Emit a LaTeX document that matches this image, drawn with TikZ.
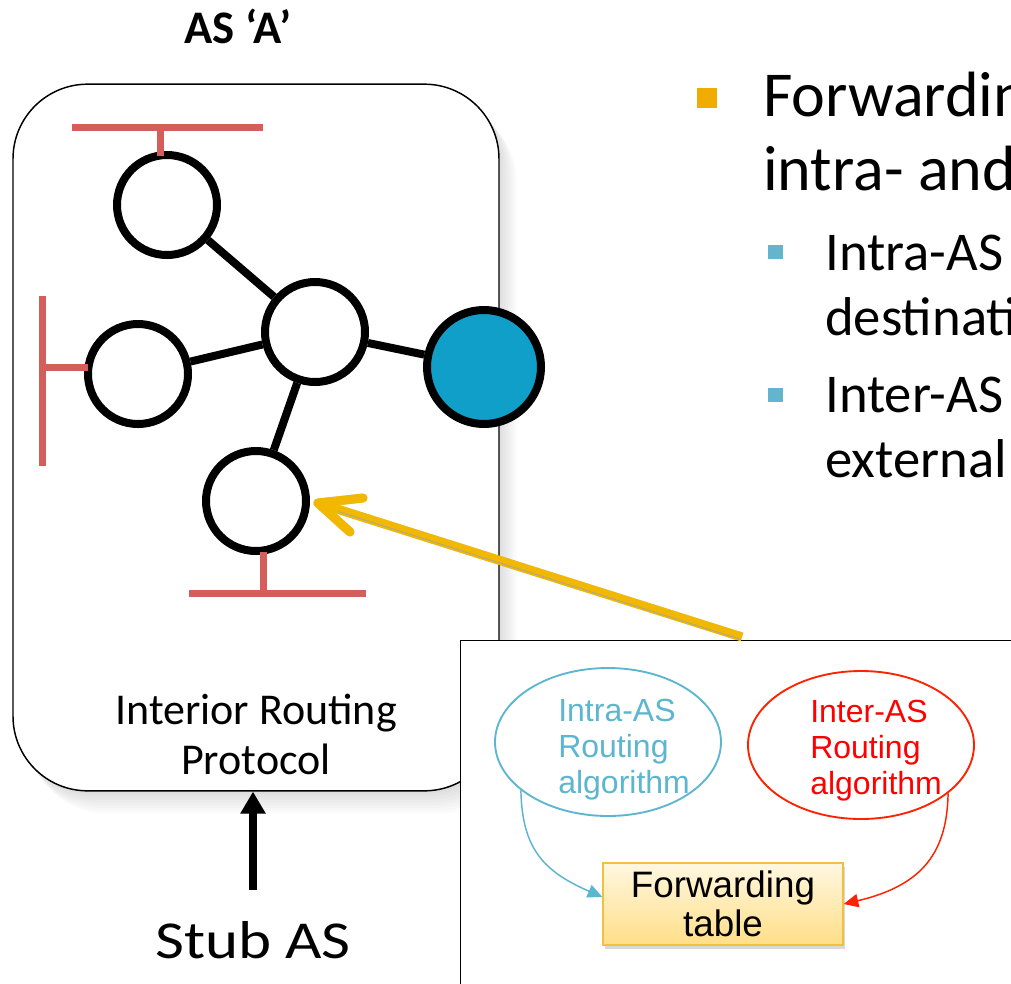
\documentclass[tikz,border=0pt]{standalone}
\usepackage{fontspec}
\setmainfont{Carlito}
\newfontfamily\arialfont{Liberation Sans}
\usetikzlibrary{arrows.meta,shapes.geometric,shadows,calc}

\definecolor{lanred}{HTML}{D45F5A}
\definecolor{routerblue}{HTML}{109FC9}
\definecolor{arrowyellow}{HTML}{F2B800}
\definecolor{bulletorange}{HTML}{F0AD00}
\definecolor{bulletblue}{HTML}{62B5CC}
\definecolor{intrablue}{HTML}{5DB6D0}
\definecolor{interred}{HTML}{FF2200}
\definecolor{tabletop}{HTML}{FFF7E0}
\definecolor{tablebottom}{HTML}{FFDE88}
\definecolor{tableedge}{HTML}{F0C040}

\begin{document}
\begin{tikzpicture}[x=0.75pt,y=-0.75pt,
  asbox/.style={draw=black,line width=1.1pt,fill=white,rounded corners=56pt,
    minimum width=364.5pt,minimum height=530pt,inner sep=0pt},
  router/.style={circle,draw=black,line width=6pt,fill=white,minimum size=75pt,inner sep=0pt},
  border router/.style={router,fill=routerblue,minimum size=85.5pt},
  link/.style={line width=6pt,black},
  lan/.style={line width=5.25pt,lanred},
  yarrow/.style={line width=6.75pt,arrowyellow},
  stubarrow/.style={line width=6.5pt,-{Triangle[length=16.5pt,width=18pt]}},
  bulletA/.style={fill=bulletorange,minimum size=15pt,inner sep=0pt},
  bulletB/.style={fill=bulletblue,minimum size=11pt,inner sep=0pt},
  panel/.style={draw=black,line width=1.1pt,fill=white,anchor=north west,
    minimum width=450pt,minimum height=280pt,inner sep=0pt},
  algo/.style={ellipse,line width=1.4pt,minimum width=169.5pt,minimum height=111pt,inner sep=0pt},
  algotext/.style={font=\arialfont\fontsize{24}{27}\selectfont,align=left,anchor=north west,inner sep=0pt},
  fwdtable/.style={draw=tableedge,line width=1pt,top color=tabletop,bottom color=tablebottom,
    minimum width=180pt,minimum height=61.5pt,inner sep=0pt,align=center,
    font=\arialfont\fontsize{27.6}{29}\selectfont,
    drop shadow={opacity=0.3,shadow xshift=1.5pt,shadow yshift=-3pt}},
  feed/.style={line width=1.1pt,-{Triangle[length=11pt,width=10pt]}}
]
\useasboundingbox (0,0) rectangle (1011,983);
\clip (0,0) rectangle (1011,983);
\fill[white] (0,0) rectangle (1011,983);

% soft shadow behind the AS box
\foreach \k in {1,...,8}
  \fill[black,opacity=0.016,rounded corners=56pt]
    (13+\k*2.2,84+\k*2.8) rectangle (499+\k*2.2,791+\k*2.8);

% title and AS box
\node[font=\bfseries\fontsize{35}{40}\selectfont,anchor=base] (title) at (238,43) {AS ‘A’};
\node[asbox] (as) at (256,437.5) {};
\node[font=\fontsize{33}{37.5}\selectfont,align=center,anchor=north,inner sep=0pt]
  (igp) at (256,694) {Interior Routing\\Protocol};

% routers
\node[router] (r1) at (167,205) {};
\node[router] (r2) at (315,332) {};
\node[router] (r3) at (138,374) {};
\node[border router] (r4) at (484,367) {};
\node[router] (r5) at (256,501) {};

\draw[link] (r1) -- (r2);
\draw[link] (r3) -- (r2);
\draw[link] (r2) -- (r4);
\draw[link] (r2) -- (r5);

% attached LAN segments
\coordinate (lanAl) at (72,127);  \coordinate (lanAr) at (263,127);
\coordinate (lanAt) at (160,127); \coordinate (lanAb) at (160,156);
\coordinate (lanBt) at (42,296);  \coordinate (lanBb) at (42,466);
\coordinate (lanBs) at (42,367);  \coordinate (lanBe) at (88,367);
\coordinate (lanCl) at (189,593); \coordinate (lanCr) at (366,593);
\coordinate (lanCs) at (263,593); \coordinate (lanCe) at (263,552);
\draw[lan] (lanAl) -- (lanAr);
\draw[lan] (lanAt) -- (lanAb);
\draw[lan] (lanBt) -- (lanBb);
\draw[lan] (lanBs) -- (lanBe);
\draw[lan] (lanCl) -- (lanCr);
\draw[lan] (lanCs) -- (lanCe);

% stub AS feeding the box
\node[font=\fontsize{40}{44}\selectfont,anchor=base,inner sep=0pt] (stub) at (253,958)
  {\scalebox{1.18}[1]{Stub AS}};
\draw[stubarrow,shorten <=23pt] (stub.north) -- (stub.north |- as.south);

% bullet text
\node[bulletA] (b1) at (707,98) {};
\node[font=\fontsize{48}{56}\selectfont,anchor=base west,inner sep=0pt] (t1) at (763,116) {Forwarding};
\node[font=\fontsize{48}{56}\selectfont,anchor=base west,inner sep=0pt] (t2) at (763,190) {intra- and};
\node[bulletB] (b2) at (775.5,252) {};
\node[font=\fontsize{41}{48}\selectfont,anchor=base west,inner sep=0pt] (t3) at (825,270) {Intra-AS};
\node[font=\fontsize{41}{48}\selectfont,anchor=base west,inner sep=0pt] (t4) at (825,335) {destinations};
\node[bulletB] (b3) at (775.5,395) {};
\node[font=\fontsize{41}{48}\selectfont,anchor=base west,inner sep=0pt] (t5) at (825,412) {Inter-AS};
\node[font=\fontsize{41}{48}\selectfont,anchor=base west,inner sep=0pt] (t6) at (825,477) {external};

% router internals panel
\node[panel] (panel) at (460,640) {};
\node[algo,draw=intrablue] (intra) at (608,742) {};
\node[algotext,text=intrablue] (intratext) at (558,699) {Intra-AS\\Routing\\algorithm};
\node[algo,draw=interred] (inter) at (861,745) {};
\node[algotext,text=red] (intertext) at (810,700) {Inter-AS\\Routing\\algorithm};
\node[fwdtable] (fwd) at (723,904) {Forwarding\\table};
\draw[feed,intrablue] (intra.209) .. controls (522,850) and (545,872) .. ($(fwd.west)+(0,-7)$);
\draw[feed,interred] (inter.331) .. controls (947,850) and (925,885) .. (fwd.east);

% highlight arrow pointing at the router
\coordinate (ytip) at (318,503);
\coordinate (ytail) at (742,637);
\coordinate (yarmA) at (363,498);
\coordinate (yarmB) at (350,532);
\begin{scope}[shift={(3,5)},opacity=0.18]
  \draw[yarrow,black] (ytail) -- (ytip);
  \draw[yarrow,black,line cap=round,line join=round] (yarmA) -- (ytip) -- (yarmB);
\end{scope}
\draw[yarrow,shorten >=3pt] (ytail) -- (ytip);
\draw[gray!70,line width=0.6pt] (741,639.5) -- (338,511.5);
\draw[yarrow,line cap=round,line join=round] (yarmA) -- (ytip) -- (yarmB);
\end{tikzpicture}
\end{document}
